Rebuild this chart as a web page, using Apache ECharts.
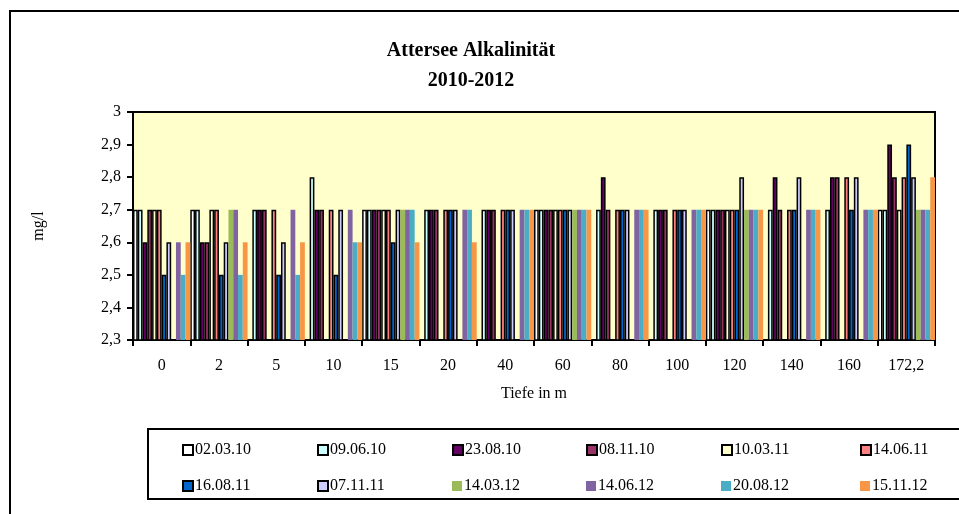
<!DOCTYPE html>
<html>
<head>
<meta charset="utf-8">
<script src="https://cdn.jsdelivr.net/npm/echarts@6/dist/echarts.min.js"></script>
<style>
  html, body { margin: 0; padding: 0; background: #fff; }
  #chart { width: 959px; height: 514px; }
</style>
</head>
<body>
<div id="chart"></div>
<script>
// Tiefen (Kategorien)
var depths = ['0', '2', '5', '10', '15', '20', '40', '60', '80', '100', '120', '140', '160', '172,2'];
// Probenahmetermine
var dates = ['02.03.10', '09.06.10', '23.08.10', '08.11.10', '10.03.11', '14.06.11',
             '16.08.11', '07.11.11', '14.03.12', '14.06.12', '20.08.12', '15.11.12'];
// Werte je Termin (mg/l), null = nicht gemessen
var v020310 = [2.7, 2.7, null, null, 2.7, null, null, 2.7, null, null, 2.7, null, null, 2.7];
var v090610 = [2.7, 2.7, 2.7, 2.8, 2.7, 2.7, 2.7, 2.7, 2.7, 2.7, 2.7, 2.7, 2.7, 2.7];
var v230810 = [2.6, 2.6, 2.7, 2.7, 2.7, 2.7, 2.7, 2.7, 2.8, 2.7, 2.7, 2.8, 2.8, 2.9];
var v081110 = [2.7, 2.6, 2.7, 2.7, 2.7, 2.7, 2.7, 2.7, 2.7, 2.7, 2.7, 2.7, 2.8, 2.8];
var v100311 = [2.7, 2.7, null, null, 2.7, null, null, 2.7, null, null, 2.7, null, null, 2.7];
var v140611 = [2.7, 2.7, 2.7, 2.7, 2.7, 2.7, 2.7, 2.7, 2.7, 2.7, 2.7, 2.7, 2.8, 2.8];
var v160811 = [2.5, 2.5, 2.5, 2.5, 2.6, 2.7, 2.7, 2.7, 2.7, 2.7, 2.7, 2.7, 2.7, 2.9];
var v071111 = [2.6, 2.6, 2.6, 2.7, 2.7, 2.7, 2.7, 2.7, 2.7, 2.7, 2.8, 2.8, 2.8, 2.8];
var v140312 = [null, 2.7, null, null, 2.7, null, null, 2.7, null, null, 2.7, null, null, 2.7];
var v140612 = [2.6, 2.7, 2.7, 2.7, 2.7, 2.7, 2.7, 2.7, 2.7, 2.7, 2.7, 2.7, 2.7, 2.7];
var v200812 = [2.5, 2.5, 2.5, 2.6, 2.7, 2.7, 2.7, 2.7, 2.7, 2.7, 2.7, 2.7, 2.7, 2.7];
var v151112 = [2.6, 2.6, 2.6, 2.6, 2.6, 2.6, 2.7, 2.7, 2.7, 2.7, 2.7, 2.7, 2.7, 2.8];
var values = [v020310, v090610, v230810, v081110, v100311, v140611,
              v160811, v071111, v140312, v140612, v200812, v151112];

var colors = ['#FFFFFF', '#CCFFFF', '#660066', '#993366', '#FFFFCC', '#FF8080',
              '#0066CC', '#CCCCFF', '#9BBB59', '#8064A2', '#4BACC6', '#F79646'];

var font = '"Liberation Serif", "Times New Roman", serif';
var myChart = echarts.init(document.getElementById('chart'));

// Serien: die ersten 8 mit schwarzem Rand (alte Excel-Palette)
var series = dates.map(function (d, i) {
  return {
    name: d,
    type: 'bar',
    data: values[i],
    barGap: '0%',
    barCategoryGap: '0%',
    itemStyle: {
      color: colors[i],
      borderColor: i < 8 ? '#000' : colors[i],
      borderWidth: i < 8 ? 1.5 : 0
    }
  };
});

// Legende: je Eintrag eine eigene Legende, 6 Spalten x 2 Zeilen
var colX = [177, 312, 447, 581, 716, 855];
var rowY = [437, 473];
var legends = dates.map(function (d, i) {
  return {
    data: [d],
    left: colX[i % 6],
    top: rowY[Math.floor(i / 6)],
    icon: 'rect',
    itemWidth: 10,
    itemHeight: 10,
    itemGap: 2,
    selectedMode: false,
    textStyle: { fontFamily: font, fontSize: 16, color: '#000', padding: [0, 0, 0, -3] }
  };
});

var option = {
  animation: false,
  backgroundColor: '#fff',
  title: {
    text: 'Attersee Alkalinität\n2010-2012',
    left: 466,
    top: 31,
    textAlign: 'center',
    textStyle: { fontFamily: font, fontSize: 20, fontWeight: 'bold', color: '#000', lineHeight: 30 }
  },
  legend: legends,
  grid: {
    left: 133,
    right: 24,
    top: 112,
    bottom: 174,
    show: true,
    backgroundColor: '#FFFFCC',
    borderColor: '#000',
    borderWidth: 2
  },
  xAxis: {
    type: 'category',
    data: depths,
    name: 'Tiefe in m',
    nameLocation: 'middle',
    nameGap: 46,
    nameTextStyle: { fontFamily: font, fontSize: 16, color: '#000' },
    axisLine: { lineStyle: { color: '#000', width: 2 } },
    axisTick: { show: true, length: 6, lineStyle: { color: '#000', width: 2 } },
    axisLabel: { fontFamily: font, fontSize: 16, color: '#000', margin: 18 }
  },
  yAxis: {
    type: 'value',
    min: 2.3,
    max: 3,
    interval: 0.1,
    name: 'mg/l',
    nameLocation: 'middle',
    nameGap: 86,
    nameTextStyle: { fontFamily: font, fontSize: 16, color: '#000' },
    axisLine: { show: true, lineStyle: { color: '#000', width: 2 } },
    axisTick: { show: true, length: 6, lineStyle: { color: '#000', width: 2 } },
    splitLine: { show: false },
    axisLabel: {
      fontFamily: font, fontSize: 16, color: '#000', margin: 12,
      formatter: function (v) { return String(Math.round(v * 10) / 10).replace('.', ','); }
    }
  },
  graphic: [
    { type: 'rect', shape: { x: 10, y: 11, width: 1000, height: 600 }, style: { fill: 'none', stroke: '#000', lineWidth: 2 }, z: 100 },
    { type: 'rect', shape: { x: 148, y: 429, width: 900, height: 70 }, style: { fill: 'none', stroke: '#000', lineWidth: 2 }, z: 100 }
  ],
  series: series
};

myChart.setOption(option);
window.addEventListener('resize', function () {
  myChart.resize();
});
</script>
</body>
</html>
